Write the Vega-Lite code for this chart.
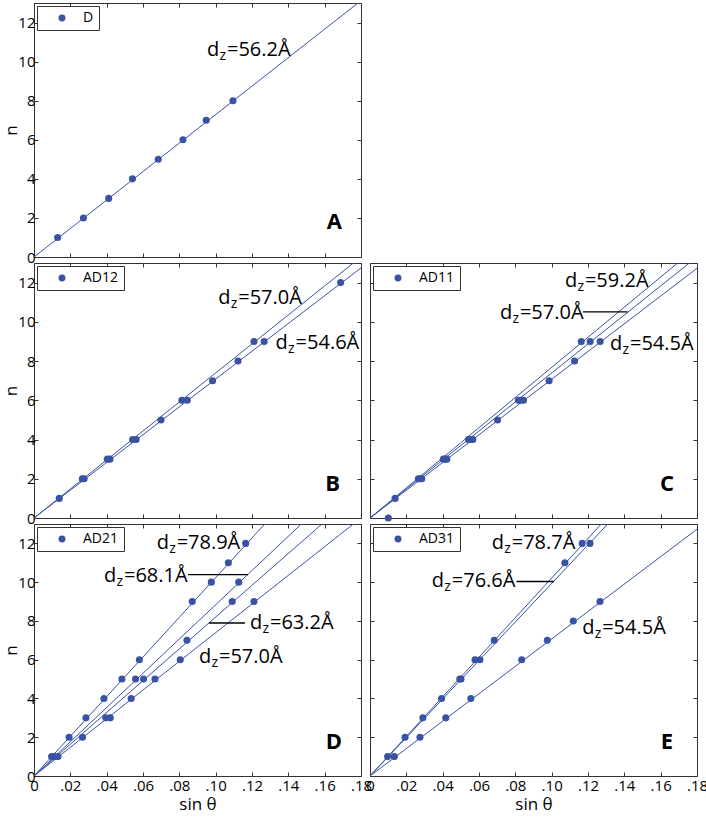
{
  "$schema": "https://vega.github.io/schema/vega-lite/v6.json",
  "padding": {"left": 2, "top": 2, "right": 5, "bottom": 2},
  "bounds": "flush",
  "columns": 2,
  "spacing": {"row": 6, "column": 9},
  "config": {
    "font": "Open Sans",
    "view": {"stroke": "#333", "strokeWidth": 1},
    "axis": {"labelFont": "Open Sans", "labelFontSize": 15, "labelColor": "#000", "tickColor": "#333", "tickWidth": 1, "titleFont": "Open Sans", "titleFontSize": 17, "titleFontWeight": "normal", "titleColor": "#000", "grid": false, "domain": false, "labelFlush": false, "labelOverlap": false, "labelBound": false},
    "axisX": {"titlePadding": 3},
    "axisY": {"titlePadding": -3},
    "legend": {"strokeColor": "#333", "fillColor": "white", "padding": 5, "symbolType": "circle", "symbolSize": 48, "symbolOffset": 13, "labelOffset": 14, "labelFont": "Open Sans", "labelFontSize": 14, "labelColor": "#000", "orient": "top-left", "offset": 3, "cornerRadius": 0}
  },
  "datasets": {
    "pts": [
      {"p": "A", "g": "D", "s": 0.0130, "n": 1}, {"p": "A", "g": "D", "s": 0.0272, "n": 2}, {"p": "A", "g": "D", "s": 0.0411, "n": 3}, {"p": "A", "g": "D", "s": 0.0542, "n": 4},
      {"p": "A", "g": "D", "s": 0.0684, "n": 5}, {"p": "A", "g": "D", "s": 0.0820, "n": 6}, {"p": "A", "g": "D", "s": 0.0948, "n": 7}, {"p": "A", "g": "D", "s": 0.1095, "n": 8},
      {"p": "B", "g": "AD12", "s": 0.0139, "n": 1}, {"p": "B", "g": "AD12", "s": 0.0266, "n": 2}, {"p": "B", "g": "AD12", "s": 0.0276, "n": 2}, {"p": "B", "g": "AD12", "s": 0.0404, "n": 3},
      {"p": "B", "g": "AD12", "s": 0.0418, "n": 3}, {"p": "B", "g": "AD12", "s": 0.0543, "n": 4}, {"p": "B", "g": "AD12", "s": 0.0562, "n": 4}, {"p": "B", "g": "AD12", "s": 0.0699, "n": 5},
      {"p": "B", "g": "AD12", "s": 0.0814, "n": 6}, {"p": "B", "g": "AD12", "s": 0.0844, "n": 6}, {"p": "B", "g": "AD12", "s": 0.0983, "n": 7}, {"p": "B", "g": "AD12", "s": 0.1123, "n": 8},
      {"p": "B", "g": "AD12", "s": 0.1211, "n": 9}, {"p": "B", "g": "AD12", "s": 0.1267, "n": 9}, {"p": "B", "g": "AD12", "s": 0.1688, "n": 12},
      {"p": "C", "g": "AD11", "s": 0.0101, "n": 0}, {"p": "C", "g": "AD11", "s": 0.0138, "n": 1}, {"p": "C", "g": "AD11", "s": 0.0266, "n": 2}, {"p": "C", "g": "AD11", "s": 0.0276, "n": 2},
      {"p": "C", "g": "AD11", "s": 0.0285, "n": 2}, {"p": "C", "g": "AD11", "s": 0.0404, "n": 3}, {"p": "C", "g": "AD11", "s": 0.0414, "n": 3}, {"p": "C", "g": "AD11", "s": 0.0423, "n": 3},
      {"p": "C", "g": "AD11", "s": 0.0542, "n": 4}, {"p": "C", "g": "AD11", "s": 0.0555, "n": 4}, {"p": "C", "g": "AD11", "s": 0.0566, "n": 4}, {"p": "C", "g": "AD11", "s": 0.0702, "n": 5},
      {"p": "C", "g": "AD11", "s": 0.0817, "n": 6}, {"p": "C", "g": "AD11", "s": 0.0831, "n": 6}, {"p": "C", "g": "AD11", "s": 0.0845, "n": 6}, {"p": "C", "g": "AD11", "s": 0.0986, "n": 7},
      {"p": "C", "g": "AD11", "s": 0.1126, "n": 8}, {"p": "C", "g": "AD11", "s": 0.1163, "n": 9}, {"p": "C", "g": "AD11", "s": 0.1212, "n": 9}, {"p": "C", "g": "AD11", "s": 0.1267, "n": 9},
      {"p": "D", "g": "AD21", "s": 0.0097, "n": 1}, {"p": "D", "g": "AD21", "s": 0.0113, "n": 1}, {"p": "D", "g": "AD21", "s": 0.0132, "n": 1}, {"p": "D", "g": "AD21", "s": 0.0193, "n": 2},
      {"p": "D", "g": "AD21", "s": 0.0267, "n": 2}, {"p": "D", "g": "AD21", "s": 0.0286, "n": 3}, {"p": "D", "g": "AD21", "s": 0.0395, "n": 3}, {"p": "D", "g": "AD21", "s": 0.0420, "n": 3},
      {"p": "D", "g": "AD21", "s": 0.0385, "n": 4}, {"p": "D", "g": "AD21", "s": 0.0535, "n": 4}, {"p": "D", "g": "AD21", "s": 0.0484, "n": 5}, {"p": "D", "g": "AD21", "s": 0.0559, "n": 5},
      {"p": "D", "g": "AD21", "s": 0.0603, "n": 5}, {"p": "D", "g": "AD21", "s": 0.0666, "n": 5}, {"p": "D", "g": "AD21", "s": 0.0580, "n": 6}, {"p": "D", "g": "AD21", "s": 0.0805, "n": 6},
      {"p": "D", "g": "AD21", "s": 0.0842, "n": 7}, {"p": "D", "g": "AD21", "s": 0.0871, "n": 9}, {"p": "D", "g": "AD21", "s": 0.1091, "n": 9}, {"p": "D", "g": "AD21", "s": 0.1211, "n": 9},
      {"p": "D", "g": "AD21", "s": 0.0976, "n": 10}, {"p": "D", "g": "AD21", "s": 0.1127, "n": 10}, {"p": "D", "g": "AD21", "s": 0.1070, "n": 11}, {"p": "D", "g": "AD21", "s": 0.1165, "n": 12},
      {"p": "E", "g": "AD31", "s": 0.0097, "n": 1}, {"p": "E", "g": "AD31", "s": 0.0134, "n": 1}, {"p": "E", "g": "AD31", "s": 0.0193, "n": 2}, {"p": "E", "g": "AD31", "s": 0.0275, "n": 2},
      {"p": "E", "g": "AD31", "s": 0.0291, "n": 3}, {"p": "E", "g": "AD31", "s": 0.0417, "n": 3}, {"p": "E", "g": "AD31", "s": 0.0394, "n": 4}, {"p": "E", "g": "AD31", "s": 0.0555, "n": 4},
      {"p": "E", "g": "AD31", "s": 0.0494, "n": 5}, {"p": "E", "g": "AD31", "s": 0.0501, "n": 5}, {"p": "E", "g": "AD31", "s": 0.0578, "n": 6}, {"p": "E", "g": "AD31", "s": 0.0605, "n": 6},
      {"p": "E", "g": "AD31", "s": 0.0835, "n": 6}, {"p": "E", "g": "AD31", "s": 0.0684, "n": 7}, {"p": "E", "g": "AD31", "s": 0.0976, "n": 7}, {"p": "E", "g": "AD31", "s": 0.1119, "n": 8},
      {"p": "E", "g": "AD31", "s": 0.1266, "n": 9}, {"p": "E", "g": "AD31", "s": 0.1073, "n": 11}, {"p": "E", "g": "AD31", "s": 0.1168, "n": 12}, {"p": "E", "g": "AD31", "s": 0.1211, "n": 12}
    ],
    "lines": [
      {"p": "A", "f": "a1", "s": 0, "n": 0}, {"p": "A", "f": "a1", "s": 0.18, "n": 13.12},
      {"p": "B", "f": "b1", "s": 0, "n": 0}, {"p": "B", "f": "b1", "s": 0.18, "n": 13.31},
      {"p": "B", "f": "b2", "s": 0, "n": 0}, {"p": "B", "f": "b2", "s": 0.18, "n": 12.75},
      {"p": "C", "f": "c1", "s": 0, "n": 0}, {"p": "C", "f": "c1", "s": 0.18, "n": 13.82},
      {"p": "C", "f": "c2", "s": 0, "n": 0}, {"p": "C", "f": "c2", "s": 0.18, "n": 13.31},
      {"p": "C", "f": "c3", "s": 0, "n": 0}, {"p": "C", "f": "c3", "s": 0.18, "n": 12.73},
      {"p": "D", "f": "d1", "s": 0, "n": 0}, {"p": "D", "f": "d1", "s": 0.18, "n": 18.42},
      {"p": "D", "f": "d2", "s": 0, "n": 0}, {"p": "D", "f": "d2", "s": 0.18, "n": 15.90},
      {"p": "D", "f": "d3", "s": 0, "n": 0}, {"p": "D", "f": "d3", "s": 0.18, "n": 14.76},
      {"p": "D", "f": "d4", "s": 0, "n": 0}, {"p": "D", "f": "d4", "s": 0.18, "n": 13.31},
      {"p": "E", "f": "e1", "s": 0, "n": 0}, {"p": "E", "f": "e1", "s": 0.18, "n": 18.38},
      {"p": "E", "f": "e2", "s": 0, "n": 0}, {"p": "E", "f": "e2", "s": 0.18, "n": 17.88},
      {"p": "E", "f": "e3", "s": 0, "n": 0}, {"p": "E", "f": "e3", "s": 0.18, "n": 12.73}
    ],
    "ann": [
      {"p": "A", "s": 0.0952, "n": 10.27, "t": "=56.2Å"},
      {"p": "B", "s": 0.1014, "n": 10.92, "t": "=57.0Å"},
      {"p": "B", "s": 0.1330, "n": 8.62, "t": "=54.6Å"},
      {"p": "C", "s": 0.1073, "n": 11.77, "t": "=59.2Å"},
      {"p": "C", "s": 0.0715, "n": 10.15, "t": "=57.0Å"},
      {"p": "C", "s": 0.1321, "n": 8.54, "t": "=54.5Å"},
      {"p": "D", "s": 0.0675, "n": 11.71, "t": "=78.9Å"},
      {"p": "D", "s": 0.0385, "n": 9.99, "t": "=68.1Å"},
      {"p": "D", "s": 0.1189, "n": 7.59, "t": "=63.2Å"},
      {"p": "D", "s": 0.0908, "n": 5.83, "t": "=57.0Å"},
      {"p": "E", "s": 0.0670, "n": 11.71, "t": "=78.7Å"},
      {"p": "E", "s": 0.0340, "n": 9.74, "t": "=76.6Å"},
      {"p": "E", "s": 0.1168, "n": 7.33, "t": "=54.5Å"}
    ],
    "lead": [
      {"p": "C", "s": 0.1172, "s2": 0.1418, "n": 10.51},
      {"p": "D", "s": 0.0848, "s2": 0.1178, "n": 10.39},
      {"p": "D", "s": 0.0963, "s2": 0.1161, "n": 7.89},
      {"p": "E", "s": 0.0807, "s2": 0.1013, "n": 10.03}
    ],
    "let": [
      {"p": "A", "s": 0.1695, "n": 1.43, "t": "A"},
      {"p": "B", "s": 0.1684, "n": 1.38, "t": "B"},
      {"p": "C", "s": 0.1673, "n": 1.38, "t": "C"},
      {"p": "D", "s": 0.1695, "n": 1.39, "t": "D"},
      {"p": "E", "s": 0.1668, "n": 1.39, "t": "E"}
    ]
  },
  "resolve": {"scale": {"color": "independent"}, "legend": {"color": "independent"}},
  "concat": [
    {
      "width": 327, "height": 254,
      "layer": [
        {"data": {"name": "lines"}, "transform": [{"filter": "datum.p == 'A'"}], "mark": {"type": "line", "clip": true, "color": "#3953a4", "strokeWidth": 1},
         "encoding": {"x": {"field": "s", "type": "quantitative", "scale": {"domain": [0, 0.18], "nice": false, "zero": false}, "axis": {"orient": "bottom", "values": [0, 0.02, 0.04, 0.06, 0.08, 0.1, 0.12, 0.14, 0.16, 0.18], "labels": false, "title": null, "tickSize": -4}},
                      "y": {"field": "n", "type": "quantitative", "scale": {"domain": [0, 13], "nice": false, "zero": false}, "axis": {"orient": "left", "values": [0, 2, 4, 6, 8, 10, 12], "title": "n", "tickSize": -4, "labelPadding": 3}},
                      "detail": {"field": "f"}}},
        {"data": {"name": "pts"}, "transform": [{"filter": "datum.p == 'A'"}], "mark": {"type": "circle", "size": 50, "opacity": 1},
         "encoding": {"x": {"field": "s", "type": "quantitative", "axis": {"orient": "top", "values": [0, 0.02, 0.04, 0.06, 0.08, 0.1, 0.12, 0.14, 0.16, 0.18], "labels": false, "title": null, "tickSize": -4}},
                      "y": {"field": "n", "type": "quantitative", "axis": {"orient": "right", "values": [0, 2, 4, 6, 8, 10, 12], "labels": false, "title": null, "tickSize": -4}},
                      "color": {"field": "g", "type": "nominal", "scale": {"range": ["#3953a4"]}, "legend": {"title": null, "labelExpr": "datum.label + ' '"}}}},
        {"data": {"name": "ann"}, "transform": [{"filter": "datum.p == 'A'"}], "mark": {"type": "text", "text": "d", "align": "left", "baseline": "alphabetic", "fontSize": 20, "color": "#000"},
         "encoding": {"x": {"field": "s", "type": "quantitative", "axis": null}, "y": {"field": "n", "type": "quantitative", "axis": null}}},
        {"data": {"name": "ann"}, "transform": [{"filter": "datum.p == 'A'"}], "mark": {"type": "text", "text": "z", "align": "left", "baseline": "alphabetic", "fontSize": 14, "dx": 12.5, "dy": 4, "color": "#000"},
         "encoding": {"x": {"field": "s", "type": "quantitative", "axis": null}, "y": {"field": "n", "type": "quantitative", "axis": null}}},
        {"data": {"name": "ann"}, "transform": [{"filter": "datum.p == 'A'"}], "mark": {"type": "text", "align": "left", "baseline": "alphabetic", "fontSize": 20, "dx": 20, "color": "#000"},
         "encoding": {"x": {"field": "s", "type": "quantitative", "axis": null}, "y": {"field": "n", "type": "quantitative", "axis": null}, "text": {"field": "t"}}},
        {"data": {"name": "let"}, "transform": [{"filter": "datum.p == 'A'"}], "mark": {"type": "text", "align": "right", "baseline": "alphabetic", "fontSize": 22, "fontWeight": "bold", "color": "#000"},
         "encoding": {"x": {"field": "s", "type": "quantitative", "axis": null}, "y": {"field": "n", "type": "quantitative", "axis": null}, "text": {"field": "t"}}}
      ],
      "resolve": {"axis": {"x": "independent", "y": "independent"}}
    },
    {
      "width": 327, "height": 254,
      "data": {"values": []},
      "mark": {"type": "point"},
      "encoding": {},
      "view": {"stroke": null}
    },
    {
      "width": 327, "height": 255,
      "layer": [
        {"data": {"name": "lines"}, "transform": [{"filter": "datum.p == 'B'"}], "mark": {"type": "line", "clip": true, "color": "#3953a4", "strokeWidth": 1},
         "encoding": {"x": {"field": "s", "type": "quantitative", "scale": {"domain": [0, 0.18], "nice": false, "zero": false}, "axis": {"orient": "bottom", "values": [0, 0.02, 0.04, 0.06, 0.08, 0.1, 0.12, 0.14, 0.16, 0.18], "labels": false, "title": null, "tickSize": -4}},
                      "y": {"field": "n", "type": "quantitative", "scale": {"domain": [0, 13], "nice": false, "zero": false}, "axis": {"orient": "left", "values": [0, 2, 4, 6, 8, 10, 12], "title": "n", "tickSize": -4, "labelPadding": 3}},
                      "detail": {"field": "f"}}},
        {"data": {"name": "pts"}, "transform": [{"filter": "datum.p == 'B'"}], "mark": {"type": "circle", "size": 50, "opacity": 1},
         "encoding": {"x": {"field": "s", "type": "quantitative", "axis": {"orient": "top", "values": [0, 0.02, 0.04, 0.06, 0.08, 0.1, 0.12, 0.14, 0.16, 0.18], "labels": false, "title": null, "tickSize": -4}},
                      "y": {"field": "n", "type": "quantitative", "axis": {"orient": "right", "values": [0, 2, 4, 6, 8, 10, 12], "labels": false, "title": null, "tickSize": -4}},
                      "color": {"field": "g", "type": "nominal", "scale": {"range": ["#3953a4"]}, "legend": {"title": null, "labelExpr": "datum.label + ' '"}}}},
        {"data": {"name": "ann"}, "transform": [{"filter": "datum.p == 'B'"}], "mark": {"type": "text", "text": "d", "align": "left", "baseline": "alphabetic", "fontSize": 20, "color": "#000"},
         "encoding": {"x": {"field": "s", "type": "quantitative", "axis": null}, "y": {"field": "n", "type": "quantitative", "axis": null}}},
        {"data": {"name": "ann"}, "transform": [{"filter": "datum.p == 'B'"}], "mark": {"type": "text", "text": "z", "align": "left", "baseline": "alphabetic", "fontSize": 14, "dx": 12.5, "dy": 4, "color": "#000"},
         "encoding": {"x": {"field": "s", "type": "quantitative", "axis": null}, "y": {"field": "n", "type": "quantitative", "axis": null}}},
        {"data": {"name": "ann"}, "transform": [{"filter": "datum.p == 'B'"}], "mark": {"type": "text", "align": "left", "baseline": "alphabetic", "fontSize": 20, "dx": 20, "color": "#000"},
         "encoding": {"x": {"field": "s", "type": "quantitative", "axis": null}, "y": {"field": "n", "type": "quantitative", "axis": null}, "text": {"field": "t"}}},
        {"data": {"name": "let"}, "transform": [{"filter": "datum.p == 'B'"}], "mark": {"type": "text", "align": "right", "baseline": "alphabetic", "fontSize": 22, "fontWeight": "bold", "color": "#000"},
         "encoding": {"x": {"field": "s", "type": "quantitative", "axis": null}, "y": {"field": "n", "type": "quantitative", "axis": null}, "text": {"field": "t"}}}
      ],
      "resolve": {"axis": {"x": "independent", "y": "independent"}}
    },
    {
      "width": 327, "height": 255,
      "layer": [
        {"data": {"name": "lines"}, "transform": [{"filter": "datum.p == 'C'"}], "mark": {"type": "line", "clip": true, "color": "#3953a4", "strokeWidth": 1},
         "encoding": {"x": {"field": "s", "type": "quantitative", "scale": {"domain": [0, 0.18], "nice": false, "zero": false}, "axis": {"orient": "bottom", "values": [0, 0.02, 0.04, 0.06, 0.08, 0.1, 0.12, 0.14, 0.16, 0.18], "labels": false, "title": null, "tickSize": -4}},
                      "y": {"field": "n", "type": "quantitative", "scale": {"domain": [0, 13], "nice": false, "zero": false}, "axis": {"orient": "left", "values": [0, 2, 4, 6, 8, 10, 12], "labels": false, "title": null, "tickSize": -4}},
                      "detail": {"field": "f"}}},
        {"data": {"name": "pts"}, "transform": [{"filter": "datum.p == 'C'"}], "mark": {"type": "circle", "size": 50, "opacity": 1},
         "encoding": {"x": {"field": "s", "type": "quantitative", "axis": {"orient": "top", "values": [0, 0.02, 0.04, 0.06, 0.08, 0.1, 0.12, 0.14, 0.16, 0.18], "labels": false, "title": null, "tickSize": -4}},
                      "y": {"field": "n", "type": "quantitative", "axis": {"orient": "right", "values": [0, 2, 4, 6, 8, 10, 12], "labels": false, "title": null, "tickSize": -4}},
                      "color": {"field": "g", "type": "nominal", "scale": {"range": ["#3953a4"]}, "legend": {"title": null, "labelExpr": "datum.label + ' '"}}}},
        {"data": {"name": "lead"}, "transform": [{"filter": "datum.p == 'C'"}], "mark": {"type": "rule", "color": "#000", "strokeWidth": 1.4},
         "encoding": {"x": {"field": "s", "type": "quantitative", "axis": null}, "x2": {"field": "s2"}, "y": {"field": "n", "type": "quantitative", "axis": null}}},
        {"data": {"name": "ann"}, "transform": [{"filter": "datum.p == 'C'"}], "mark": {"type": "text", "text": "d", "align": "left", "baseline": "alphabetic", "fontSize": 20, "color": "#000"},
         "encoding": {"x": {"field": "s", "type": "quantitative", "axis": null}, "y": {"field": "n", "type": "quantitative", "axis": null}}},
        {"data": {"name": "ann"}, "transform": [{"filter": "datum.p == 'C'"}], "mark": {"type": "text", "text": "z", "align": "left", "baseline": "alphabetic", "fontSize": 14, "dx": 12.5, "dy": 4, "color": "#000"},
         "encoding": {"x": {"field": "s", "type": "quantitative", "axis": null}, "y": {"field": "n", "type": "quantitative", "axis": null}}},
        {"data": {"name": "ann"}, "transform": [{"filter": "datum.p == 'C'"}], "mark": {"type": "text", "align": "left", "baseline": "alphabetic", "fontSize": 20, "dx": 20, "color": "#000"},
         "encoding": {"x": {"field": "s", "type": "quantitative", "axis": null}, "y": {"field": "n", "type": "quantitative", "axis": null}, "text": {"field": "t"}}},
        {"data": {"name": "let"}, "transform": [{"filter": "datum.p == 'C'"}], "mark": {"type": "text", "align": "right", "baseline": "alphabetic", "fontSize": 22, "fontWeight": "bold", "color": "#000"},
         "encoding": {"x": {"field": "s", "type": "quantitative", "axis": null}, "y": {"field": "n", "type": "quantitative", "axis": null}, "text": {"field": "t"}}}
      ],
      "resolve": {"axis": {"x": "independent", "y": "independent"}}
    },
    {
      "width": 327, "height": 252,
      "layer": [
        {"data": {"name": "lines"}, "transform": [{"filter": "datum.p == 'D'"}], "mark": {"type": "line", "clip": true, "color": "#3953a4", "strokeWidth": 1},
         "encoding": {"x": {"field": "s", "type": "quantitative", "scale": {"domain": [0, 0.18], "nice": false, "zero": false}, "axis": {"orient": "bottom", "values": [0, 0.02, 0.04, 0.06, 0.08, 0.1, 0.12, 0.14, 0.16, 0.18], "labelExpr": "datum.value == 0 ? '0' : replace(format(datum.value, '.2f'), '0.', '.')", "title": "sin θ", "tickSize": -4, "labelPadding": 6}},
                      "y": {"field": "n", "type": "quantitative", "scale": {"domain": [0, 13], "nice": false, "zero": false}, "axis": {"orient": "left", "values": [0, 2, 4, 6, 8, 10, 12], "title": "n", "tickSize": -4, "labelPadding": 3}},
                      "detail": {"field": "f"}}},
        {"data": {"name": "pts"}, "transform": [{"filter": "datum.p == 'D'"}], "mark": {"type": "circle", "size": 50, "opacity": 1},
         "encoding": {"x": {"field": "s", "type": "quantitative", "axis": {"orient": "top", "values": [0, 0.02, 0.04, 0.06, 0.08, 0.1, 0.12, 0.14, 0.16, 0.18], "labels": false, "title": null, "tickSize": -4}},
                      "y": {"field": "n", "type": "quantitative", "axis": {"orient": "right", "values": [0, 2, 4, 6, 8, 10, 12], "labels": false, "title": null, "tickSize": -4}},
                      "color": {"field": "g", "type": "nominal", "scale": {"range": ["#3953a4"]}, "legend": {"title": null, "labelExpr": "datum.label + ' '"}}}},
        {"data": {"name": "lead"}, "transform": [{"filter": "datum.p == 'D'"}], "mark": {"type": "rule", "color": "#000", "strokeWidth": 1.4},
         "encoding": {"x": {"field": "s", "type": "quantitative", "axis": null}, "x2": {"field": "s2"}, "y": {"field": "n", "type": "quantitative", "axis": null}}},
        {"data": {"name": "ann"}, "transform": [{"filter": "datum.p == 'D'"}], "mark": {"type": "text", "text": "d", "align": "left", "baseline": "alphabetic", "fontSize": 20, "color": "#000"},
         "encoding": {"x": {"field": "s", "type": "quantitative", "axis": null}, "y": {"field": "n", "type": "quantitative", "axis": null}}},
        {"data": {"name": "ann"}, "transform": [{"filter": "datum.p == 'D'"}], "mark": {"type": "text", "text": "z", "align": "left", "baseline": "alphabetic", "fontSize": 14, "dx": 12.5, "dy": 4, "color": "#000"},
         "encoding": {"x": {"field": "s", "type": "quantitative", "axis": null}, "y": {"field": "n", "type": "quantitative", "axis": null}}},
        {"data": {"name": "ann"}, "transform": [{"filter": "datum.p == 'D'"}], "mark": {"type": "text", "align": "left", "baseline": "alphabetic", "fontSize": 20, "dx": 20, "color": "#000"},
         "encoding": {"x": {"field": "s", "type": "quantitative", "axis": null}, "y": {"field": "n", "type": "quantitative", "axis": null}, "text": {"field": "t"}}},
        {"data": {"name": "let"}, "transform": [{"filter": "datum.p == 'D'"}], "mark": {"type": "text", "align": "right", "baseline": "alphabetic", "fontSize": 22, "fontWeight": "bold", "color": "#000"},
         "encoding": {"x": {"field": "s", "type": "quantitative", "axis": null}, "y": {"field": "n", "type": "quantitative", "axis": null}, "text": {"field": "t"}}}
      ],
      "resolve": {"axis": {"x": "independent", "y": "independent"}}
    },
    {
      "width": 327, "height": 252,
      "layer": [
        {"data": {"name": "lines"}, "transform": [{"filter": "datum.p == 'E'"}], "mark": {"type": "line", "clip": true, "color": "#3953a4", "strokeWidth": 1},
         "encoding": {"x": {"field": "s", "type": "quantitative", "scale": {"domain": [0, 0.18], "nice": false, "zero": false}, "axis": {"orient": "bottom", "values": [0, 0.02, 0.04, 0.06, 0.08, 0.1, 0.12, 0.14, 0.16, 0.18], "labelExpr": "datum.value == 0 ? '0' : replace(format(datum.value, '.2f'), '0.', '.')", "title": "sin θ", "tickSize": -4, "labelPadding": 6}},
                      "y": {"field": "n", "type": "quantitative", "scale": {"domain": [0, 13], "nice": false, "zero": false}, "axis": {"orient": "left", "values": [0, 2, 4, 6, 8, 10, 12], "labels": false, "title": null, "tickSize": -4}},
                      "detail": {"field": "f"}}},
        {"data": {"name": "pts"}, "transform": [{"filter": "datum.p == 'E'"}], "mark": {"type": "circle", "size": 50, "opacity": 1},
         "encoding": {"x": {"field": "s", "type": "quantitative", "axis": {"orient": "top", "values": [0, 0.02, 0.04, 0.06, 0.08, 0.1, 0.12, 0.14, 0.16, 0.18], "labels": false, "title": null, "tickSize": -4}},
                      "y": {"field": "n", "type": "quantitative", "axis": {"orient": "right", "values": [0, 2, 4, 6, 8, 10, 12], "labels": false, "title": null, "tickSize": -4}},
                      "color": {"field": "g", "type": "nominal", "scale": {"range": ["#3953a4"]}, "legend": {"title": null, "labelExpr": "datum.label + ' '"}}}},
        {"data": {"name": "lead"}, "transform": [{"filter": "datum.p == 'E'"}], "mark": {"type": "rule", "color": "#000", "strokeWidth": 1.4},
         "encoding": {"x": {"field": "s", "type": "quantitative", "axis": null}, "x2": {"field": "s2"}, "y": {"field": "n", "type": "quantitative", "axis": null}}},
        {"data": {"name": "ann"}, "transform": [{"filter": "datum.p == 'E'"}], "mark": {"type": "text", "text": "d", "align": "left", "baseline": "alphabetic", "fontSize": 20, "color": "#000"},
         "encoding": {"x": {"field": "s", "type": "quantitative", "axis": null}, "y": {"field": "n", "type": "quantitative", "axis": null}}},
        {"data": {"name": "ann"}, "transform": [{"filter": "datum.p == 'E'"}], "mark": {"type": "text", "text": "z", "align": "left", "baseline": "alphabetic", "fontSize": 14, "dx": 12.5, "dy": 4, "color": "#000"},
         "encoding": {"x": {"field": "s", "type": "quantitative", "axis": null}, "y": {"field": "n", "type": "quantitative", "axis": null}}},
        {"data": {"name": "ann"}, "transform": [{"filter": "datum.p == 'E'"}], "mark": {"type": "text", "align": "left", "baseline": "alphabetic", "fontSize": 20, "dx": 20, "color": "#000"},
         "encoding": {"x": {"field": "s", "type": "quantitative", "axis": null}, "y": {"field": "n", "type": "quantitative", "axis": null}, "text": {"field": "t"}}},
        {"data": {"name": "let"}, "transform": [{"filter": "datum.p == 'E'"}], "mark": {"type": "text", "align": "right", "baseline": "alphabetic", "fontSize": 22, "fontWeight": "bold", "color": "#000"},
         "encoding": {"x": {"field": "s", "type": "quantitative", "axis": null}, "y": {"field": "n", "type": "quantitative", "axis": null}, "text": {"field": "t"}}}
      ],
      "resolve": {"axis": {"x": "independent", "y": "independent"}}
    }
  ]
}
